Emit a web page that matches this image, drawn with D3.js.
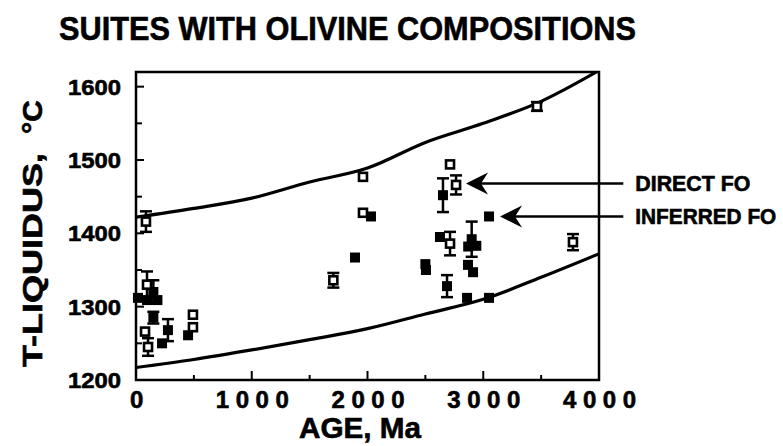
<!DOCTYPE html>
<html><head><meta charset="utf-8">
<script src="https://cdn.jsdelivr.net/npm/d3@7"></script>
<style>body{margin:0;background:#fff}</style>
</head><body><svg id="c" width="783" height="446"></svg>
<script>
// ---- data ----
const xTicks = [0, 1000, 2000, 3000, 4000];
const xMinor = [500, 1500, 2500, 3500];
const yTicks = [1200, 1300, 1400, 1500, 1600];
const yMinor = [1250, 1350, 1450, 1550];

const upperAge = [0, 500, 1000, 1500, 2000, 2500, 3000, 3500, 4000];
const upperT   = [1422, 1434, 1448, 1470, 1489, 1524, 1550, 1580, 1622];
const lowerAge = [0, 500, 1000, 1500, 2000, 2500, 3000, 3500, 4000];
const lowerT   = [1217, 1228, 1241, 1255, 1270, 1290, 1310, 1340, 1372];

// Direct Fo (open squares)
const directAge = [86, 95, 78, 104, 492, 492, 1705, 1961, 1961, 2713, 2765, 2713, 3775, 3464];
const directT   = [1416, 1330, 1266, 1245, 1289, 1272, 1336, 1477, 1428, 1494, 1466, 1386, 1388, 1573];
const directErr = [14, 18, 0, 12, 0, 0, 10, 0, 0, 0, 13, 16, 11, 6];

// Inferred Fo (filled squares)
const inferredAge = [17, 95, 150, 185, 150, 225, 276, 450, 1892, 2030, 2652, 3050, 2626, 2900, 2870, 2940, 2500, 2505, 2868, 2912, 2687, 2860, 3050];
const inferredT   = [1312, 1309, 1320, 1309, 1285, 1250, 1268, 1261, 1367, 1423, 1452, 1423, 1395, 1392, 1382, 1383, 1358, 1350, 1357, 1347, 1328, 1312, 1312];
const inferredErr = [0, 0, 16, 0, 8, 0, 15, 0, 0, 0, 23, 0, 0, 24, 0, 0, 0, 0, 0, 0, 15, 0, 0];

const labels = {title: "SUITES WITH OLIVINE COMPOSITIONS", xTitle: "AGE, Ma", yTitle: "T-LIQUIDUS,", yUnit: "°C", direct: "DIRECT FO", inferred: "INFERRED FO"};
// arrow annotations: [tipAge, tipT, tailAge]
const directArrow = [2851, 1468, 4210];
const inferredArrow = [3145, 1423, 4210];

// ---- layout ----
const L = 136, R = 599, T = 72, B = 380;
const FONT = "'Liberation Sans',Arial,Helvetica,sans-serif";
const svg = d3.select("#c");
const x = d3.scaleLinear().domain([0, 4000]).range([L, R]);
const y = d3.scaleLinear().domain([1200, 1620]).range([B, T]);

function txt(sel) {
  return sel.attr("font-family", FONT).attr("font-weight", "bold")
    .attr("stroke", "#000").attr("stroke-width", 0.6).attr("fill", "#000");
}

svg.append("defs").append("clipPath").attr("id", "clip")
  .append("rect").attr("x", L).attr("y", T).attr("width", R - L).attr("height", B - T);

// frame
svg.append("rect").attr("x", L).attr("y", T).attr("width", R - L).attr("height", B - T)
  .attr("fill", "none").attr("stroke", "#000").attr("stroke-width", 2.5);

// ticks (inward)
const tk = svg.append("g").attr("stroke", "#000").attr("stroke-width", 2);
xTicks.slice(1, -1).forEach(v => tk.append("line").attr("x1", x(v)).attr("x2", x(v)).attr("y1", B).attr("y2", B - 9));
xMinor.forEach(v => tk.append("line").attr("x1", x(v)).attr("x2", x(v)).attr("y1", B).attr("y2", B - 5));
yTicks.slice(1).forEach(v => tk.append("line").attr("x1", L).attr("x2", L + 8).attr("y1", y(v)).attr("y2", y(v)));
yMinor.forEach(v => tk.append("line").attr("x1", L).attr("x2", L + 6).attr("y1", y(v)).attr("y2", y(v)));

// tick labels
txt(svg.append("g").selectAll("text").data(yTicks).join("text"))
  .attr("x", 121).attr("y", d => y(d) + 8).attr("text-anchor", "end").attr("font-size", 22)
  .attr("textLength", 53).attr("lengthAdjust", "spacingAndGlyphs").text(d => d);
txt(svg.append("g").selectAll("text").data(xTicks).join("text"))
  .attr("x", d => x(d) - (d === 0 ? 6 : 36)).attr("y", 408).attr("font-size", 24)
  .attr("textLength", d => d === 0 ? 13 : 73).attr("lengthAdjust", "spacing").text(d => d);

// axis titles
txt(svg.append("text")).attr("x", 360).attr("y", 438).attr("text-anchor", "middle").attr("font-size", 29)
  .attr("textLength", 122).attr("lengthAdjust", "spacingAndGlyphs").text(labels.xTitle);
txt(svg.append("text")).attr("transform", "translate(42,367) rotate(-90)").attr("font-size", 27)
  .attr("textLength", 214).attr("lengthAdjust", "spacingAndGlyphs").text(labels.yTitle);
txt(svg.append("text")).attr("transform", "translate(42,134) rotate(-90)").attr("font-size", 27)
  .attr("textLength", 34).attr("lengthAdjust", "spacingAndGlyphs").text(labels.yUnit);
txt(svg.append("text")).attr("x", 59).attr("y", 40).attr("font-size", 33)
  .attr("textLength", 577).attr("lengthAdjust", "spacingAndGlyphs").text(labels.title);

// curves
const line = d3.line().x(d => x(d[0])).y(d => y(d[1])).curve(d3.curveMonotoneX);
const gC = svg.append("g").attr("clip-path", "url(#clip)");
gC.append("path").attr("d", line(d3.zip(upperAge, upperT))).attr("fill", "none").attr("stroke", "#000").attr("stroke-width", 3.2);
gC.append("path").attr("d", line(d3.zip(lowerAge, lowerT))).attr("fill", "none").attr("stroke", "#000").attr("stroke-width", 3.2);

// points
function drawSet(ages, temps, errs, open) {
  const g = svg.append("g");
  ages.forEach((a, i) => {
    const cx = x(a), e = errs[i];
    if (e > 0) {
      const y1 = y(temps[i] + e), y2 = y(temps[i] - e);
      g.append("line").attr("x1", cx).attr("x2", cx).attr("y1", y1).attr("y2", y2).attr("stroke", "#000").attr("stroke-width", 2.5);
      [y1, y2].forEach(yy => g.append("line").attr("x1", cx - 6).attr("x2", cx + 6).attr("y1", yy).attr("y2", yy).attr("stroke", "#000").attr("stroke-width", 2.5));
    }
  });
  ages.forEach((a, i) => {
    const cx = x(a), cy = y(temps[i]);
    if (open) g.append("rect").attr("x", cx - 4).attr("y", cy - 4).attr("width", 8).attr("height", 8).attr("fill", "#fff").attr("stroke", "#000").attr("stroke-width", 2.6);
    else g.append("rect").attr("x", cx - 5).attr("y", cy - 5).attr("width", 10).attr("height", 10).attr("fill", "#000");
  });
}
drawSet(inferredAge, inferredT, inferredErr, false);
drawSet(directAge, directT, directErr, true);

// arrows
function arrow(a, label, tx) {
  const tipX = x(a[0]), tipY = y(a[1]), tailX = x(a[2]);
  svg.append("line").attr("x1", tipX + 12).attr("x2", tailX).attr("y1", tipY).attr("y2", tipY).attr("stroke", "#000").attr("stroke-width", 2.5);
  svg.append("path").attr("d", `M${tipX},${tipY} L${tipX + 22},${tipY - 11} L${tipX + 15},${tipY} L${tipX + 22},${tipY + 11} Z`).attr("fill", "#000");
  txt(svg.append("text")).attr("x", tailX + 12).attr("y", tipY + 8).attr("font-size", 22)
    .attr("textLength", tx).attr("lengthAdjust", "spacingAndGlyphs").text(label);
}
arrow(directArrow, labels.direct, 115);
arrow(inferredArrow, labels.inferred, 141);
</script></body></html>
